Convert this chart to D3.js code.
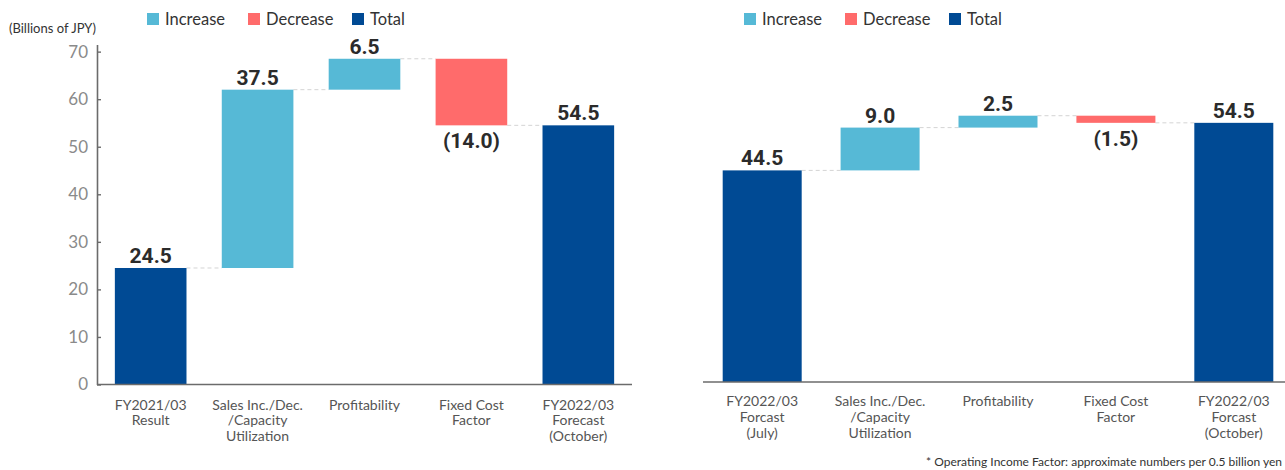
<!DOCTYPE html>
<html>
<head>
<meta charset="utf-8">
<script src="https://cdn.jsdelivr.net/npm/d3@7"></script>
<style>
  html, body { margin: 0; padding: 0; background: #fff; }
  svg { display: block; }
</style>
</head>
<body>
<svg id="chart" width="1285" height="470"></svg>
<script>
// Operating income bridge (billions of JPY)
const leftCategories = ["FY2021/03\nResult", "Sales Inc./Dec.\n/Capacity\nUtilization", "Profitability", "Fixed Cost\nFactor", "FY2022/03\nForecast\n(October)"];
const leftValues = [24.5, 37.5, 6.5, -14.0, 54.5];
const leftKinds = ["total", "increase", "increase", "decrease", "total"];

const rightCategories = ["FY2022/03\nForcast\n(July)", "Sales Inc./Dec.\n/Capacity\nUtilization", "Profitability", "Fixed Cost\nFactor", "FY2022/03\nForcast\n(October)"];
const rightValues = [44.5, 9.0, 2.5, -1.5, 54.5];
const rightKinds = ["total", "increase", "increase", "decrease", "total"];

const yTicks = [0, 10, 20, 30, 40, 50, 60, 70];
const legendLabels = ["Increase", "Decrease", "Total"];
const legendKinds = ["increase", "decrease", "total"];

const unitLabel = "(Billions of JPY)";
const footnote = "* Operating Income Factor: approximate numbers per 0.5 billion yen";

const colors = { increase: "#56B9D6", decrease: "#FF6B6B", total: "#004A94" };
const textFont = "Lato, 'Open Sans', sans-serif";
const valueFont = "Roboto, 'Liberation Sans', sans-serif";

const svg = d3.select("#chart");

// Build start/end for each step of a waterfall
function waterfall(values, kinds) {
  let level = 0;
  return values.map((v, i) => {
    let y0, y1;
    if (kinds[i] === "total") { y0 = 0; y1 = v; level = v; }
    else { y0 = level; y1 = level + v; level = y1; }
    return { i, v, kind: kinds[i], y0, y1, level };
  });
}

function drawChart(opt) {
  const g = svg.append("g");
  const x = d3.scaleBand()
    .domain(opt.categories.map((c, i) => i))
    .range([opt.x0, opt.x1])
    .paddingInner(0.33)
    .paddingOuter(0.167);
  const y = d3.scaleLinear().domain([0, 71.5]).range([opt.base, opt.base - 340]);
  const steps = waterfall(opt.values, opt.kinds);

  // y axis (left chart only)
  if (opt.showY) {
    const ax = g.append("g")
      .attr("transform", `translate(${opt.x0},0)`)
      .call(d3.axisLeft(y).tickValues(yTicks).tickSize(-4).tickSizeOuter(0).tickPadding(9).tickFormat(d3.format("d")));
    ax.select(".domain").attr("stroke", "#6b6b6b").attr("stroke-width", 1.6);
    ax.selectAll(".tick line").attr("stroke", "#6b6b6b").attr("stroke-width", 1.4);
    ax.selectAll(".tick text").attr("fill", "#8a8a8a").style("font-family", textFont).style("font-size", "17px");
  }

  // dashed connectors between consecutive bars
  const links = steps.slice(0, -1).map(s => ({ i: s.i, level: s.level }));
  g.selectAll(".link").data(links).join("line")
    .attr("x1", d => x(d.i) + x.bandwidth())
    .attr("x2", d => x(d.i + 1))
    .attr("y1", d => y(d.level)).attr("y2", d => y(d.level))
    .attr("stroke", "#d4d4d4").attr("stroke-width", 1).attr("stroke-dasharray", "4,3");

  // bars
  g.selectAll(".bar").data(steps).join("rect")
    .attr("x", d => x(d.i))
    .attr("width", x.bandwidth())
    .attr("y", d => y(Math.max(d.y0, d.y1)))
    .attr("height", d => Math.abs(y(d.y0) - y(d.y1)))
    .attr("fill", d => colors[d.kind]);

  // x axis line
  g.append("line")
    .attr("x1", opt.x0).attr("x2", opt.x1)
    .attr("y1", y(0)).attr("y2", y(0))
    .attr("stroke", "#6b6b6b").attr("stroke-width", 1.6);

  // value labels
  g.selectAll(".val").data(steps).join("text")
    .attr("x", d => x(d.i) + x.bandwidth() / 2)
    .attr("y", d => d.kind === "decrease" ? y(Math.min(d.y0, d.y1)) + 23 : y(Math.max(d.y0, d.y1)) - 5)
    .attr("text-anchor", "middle")
    .attr("fill", "#2b2b2b")
    .style("font-family", valueFont).style("font-weight", "bold").style("font-size", "21px")
    .text(d => d.v < 0 ? `(${Math.abs(d.v).toFixed(1)})` : d.v.toFixed(1));

  // category labels
  const cat = g.selectAll(".cat").data(opt.categories).join("text")
    .attr("text-anchor", "middle")
    .attr("fill", "#555")
    .style("font-family", textFont).style("font-size", "14px");
  cat.each(function (c, i) {
    d3.select(this).selectAll("tspan").data(c.split("\n")).join("tspan")
      .attr("x", x(i) + x.bandwidth() / 2)
      .attr("y", (d, k) => y(0) + opt.labelOffset + k * 15.8)
      .text(d => d);
  });

  // legend
  const lg = g.append("g").attr("transform", `translate(${opt.legendX},0)`);
  const legendOffsets = [0, 101, 205];
  legendLabels.forEach((lab, k) => {
    lg.append("rect").attr("x", legendOffsets[k]).attr("y", 13).attr("width", 12).attr("height", 12)
      .attr("fill", colors[legendKinds[k]]);
    lg.append("text").attr("x", legendOffsets[k] + 18).attr("y", 25)
      .attr("fill", "#333").style("font-family", textFont).style("font-size", "16.5px").text(lab);
  });
}

drawChart({ categories: leftCategories, values: leftValues, kinds: leftKinds,
  x0: 97, x1: 632, base: 384.5, showY: true, legendX: 147, labelOffset: 25 });
drawChart({ categories: rightCategories, values: rightValues, kinds: rightKinds,
  x0: 703, x1: 1293, base: 382, showY: false, legendX: 744, labelOffset: 24 });

svg.append("text").attr("x", 9).attr("y", 33)
  .attr("fill", "#333").style("font-family", textFont).style("font-size", "13px").text(unitLabel);

svg.append("text").attr("x", 1282).attr("y", 466).attr("text-anchor", "end")
  .attr("fill", "#333").style("font-family", textFont).style("font-size", "12px").text(footnote);
</script>
</body>
</html>
